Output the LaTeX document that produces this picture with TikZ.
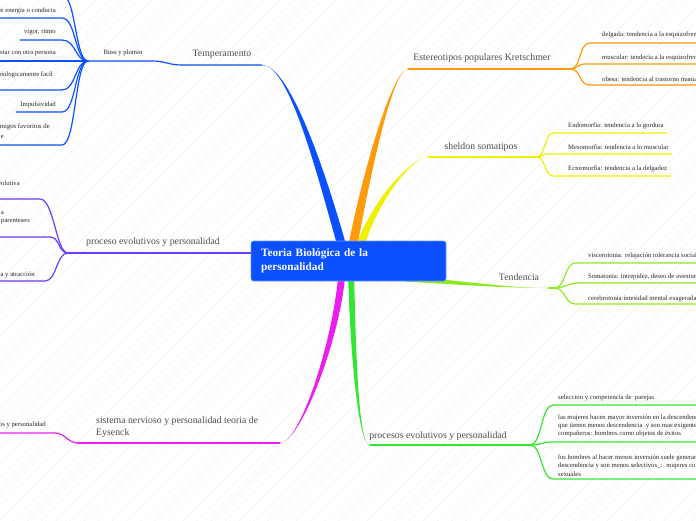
\documentclass[tikz,border=0pt]{standalone}
\usepackage{fontspec}
\setmainfont{Liberation Serif}
\usetikzlibrary{calc,patterns.meta,positioning}

\definecolor{mapblue}{HTML}{0A50FF}
\definecolor{maporange}{HTML}{FF9A0A}
\definecolor{mapyellow}{HTML}{F0F000}
\definecolor{maplime}{HTML}{8CEB1E}
\definecolor{mapgreen}{HTML}{33E633}
\definecolor{mapmagenta}{HTML}{EB1EEB}
\definecolor{mappurple}{HTML}{6A3BFF}
\definecolor{topicgray}{HTML}{4D4D4D}
\definecolor{leafgray}{HTML}{262626}

\tikzset{
  topic/.style={font=\fontsize{9.8}{12}\selectfont, text=topicgray, inner sep=0pt, align=left},
  leaf/.style={font=\fontsize{6.7}{8.3}\selectfont, text=leafgray, inner sep=0pt, align=left},
  twig/.style={line width=1.2pt, line cap=round},
  rootbox/.style={rectangle, rounded corners=2.5pt, fill=mapblue, draw=mapblue!60!white,
    line width=0.6pt, text=white, font=\bfseries\fontsize{11.3}{14}\selectfont,
    minimum width=195pt, minimum height=40pt, text width=175pt, align=left}
}

% thick branch: colour, far end, control 1, control 2, near end, half width
\newcommand{\taper}[6]{%
  \fill[#1] (#2) .. controls (#3) and ($(#4)-(#6)$) .. ($(#5)-(#6)$)
    -- ($(#5)+(#6)$) .. controls ($(#4)+(#6)$) and (#3) .. (#2);}

\begin{document}
\begin{tikzpicture}[x=1pt,y=-1pt]
  % background
  \useasboundingbox (0,0) rectangle (696,520);
  \fill[pattern={Lines[angle=45,distance=10pt,line width=0.35pt]}, pattern color=black!7]
    (0,0) rectangle (696,520);
  \clip (0,0) rectangle (696,520);

  % branch ends and hubs
  \coordinate (tempK) at (262,65);
  \coordinate (tempL) at (182,65);
  \coordinate (bussK) at (152,61);
  \coordinate (bussHub) at (88,61);
  \coordinate (kretK) at (408,69);
  \coordinate (kretHub) at (570,69);
  \coordinate (somaK) at (428,157);
  \coordinate (somaHub) at (537,157);
  \coordinate (tendK) at (548,288);
  \coordinate (tendHub) at (555,288);
  \coordinate (procK) at (370,445);
  \coordinate (procHub) at (530,445);
  \coordinate (eysK) at (280,443);
  \coordinate (eysL) at (78,443);
  \coordinate (evoNear) at (255,253);
  \coordinate (evoHub) at (68,253);

  % thick branches
  \taper{mapblue}{tempK}{288,65}{318,160}{343,250}{4.5,0}
  \taper{maporange}{kretK}{392,69}{365,180}{352,250}{4.5,0}
  \taper{mapyellow}{somaK}{410,158}{372,205}{359,250}{4,0}
  \taper{maplime}{tendK}{505,288}{455,282}{405,279}{0,2.5}
  \taper{mapgreen}{procK}{358,445}{353,350}{351,272}{3,0}
  \taper{mapmagenta}{eysK}{300,443}{337,340}{342,272}{3.5,0}

  \draw[twig, mapblue] (tempK) -- (tempL) .. controls +(-14,0) and +(14,0) .. (bussK) -- (bussHub);
  \draw[twig, maporange] (kretK) -- (kretHub);
  \draw[twig, mapyellow] (somaK) -- (somaHub);
  \draw[twig, maplime] (tendK) -- (tendHub);
  \draw[twig, mapgreen] (procK) -- (procHub);
  \draw[twig, mapmagenta] (eysK) -- (eysL);
  \draw[twig, mappurple] (evoNear) -- (evoHub);

  % topic labels
  \node[topic] (temperamento) at (222,54) {Temperamento};
  \node[leaf] (buss) at (123,53) {Buss y plomin};
  \node[topic] (kretschmer) at (482,58) {Estereotipos populares Kretschmer};
  \node[topic] (sheldon) at (481,147) {sheldon somatipos};
  \node[topic] (tendencia) at (519,277) {Tendencia};
  \node[topic] (procesos) at (438,436) {procesos evolutivos y personalidad};
  \node[topic, anchor=west] (eysenck) at (96,427) {sistema nervioso y personalidad teoria de\\Eysenck};
  \node[topic] (evolutivos) at (153,242) {proceso evolutivos y personalidad};

  % Buss y plomin
  \coordinate (topA) at (62,-5);
  \coordinate (energiaA) at (62,18);
  \coordinate (vigorA) at (62,40);
  \coordinate (personaA) at (0,61);
  \coordinate (bioA) at (62,90);
  \coordinate (impulsoA) at (62,112);
  \coordinate (amigosA) at (62,145);
  \node[leaf, anchor=east] (energia) at (56,11) {de energia o conducta};
  \node[leaf, anchor=east] (vigor) at (56,32) {vigor, ritmo};
  \node[leaf, anchor=east] (persona) at (56,53) {estar con otra persona};
  \node[leaf, anchor=east] (bio) at (53,75) {biologicamente facil};
  \node[leaf, anchor=east] (impulso) at (56,105) {Impulsividad};
  \node[leaf, anchor=east] (amigos) at (50,127) {amigos favoritos de};
  \node[leaf, anchor=east] (amigosB) at (4,137) {e};
  \draw[twig, mapblue] (bussHub) .. controls +(-13,0) and +(14,0) .. (topA) -- +(-70,0);
  \draw[twig, mapblue] (bussHub) .. controls +(-13,0) and +(14,0) .. (energiaA) -- +(-70,0);
  \draw[twig, mapblue] (bussHub) .. controls +(-13,0) and +(14,0) .. (vigorA) -- ([xshift=-4pt]vigorA -| vigor.west);
  \draw[twig, mapblue] (bussHub) -- (personaA);
  \draw[twig, mapblue] (bussHub) .. controls +(-13,0) and +(14,0) .. (bioA) -- +(-70,0);
  \draw[twig, mapblue] (bussHub) .. controls +(-13,0) and +(14,0) .. (impulsoA) -- ([xshift=-4pt]impulsoA -| impulso.west);
  \draw[twig, mapblue] (bussHub) .. controls +(-13,0) and +(14,0) .. (amigosA) -- +(-70,0);

  % Kretschmer
  \coordinate (delgadaA) at (590,43);
  \coordinate (muscularA) at (585,64);
  \coordinate (obesaA) at (590,85);
  \node[leaf, anchor=west] (delgada) at (602,35) {delgada: tendencia a la esquizofrenia};
  \node[leaf, anchor=west] (muscular) at (602,58) {muscular: tendecia a la esquizofrenia};
  \node[leaf, anchor=west] (obesa) at (602,79) {obesa: tendencia al trastorno maniaco};
  \draw[twig, maporange] (kretHub) .. controls +(12,0) and +(-12,0) .. (delgadaA) -- +(130,0);
  \draw[twig, maporange] (kretHub) .. controls +(8,0) and +(-8,0) .. (muscularA) -- +(130,0);
  \draw[twig, maporange] (kretHub) .. controls +(12,0) and +(-12,0) .. (obesaA) -- +(130,0);

  % Sheldon
  \coordinate (endoA) at (553,133);
  \coordinate (mesoA) at (548,154);
  \coordinate (ectoA) at (553,176);
  \node[leaf, anchor=west] (endo) at (568,126) {Endomorfia: tendencia a la gordura};
  \node[leaf, anchor=west] (meso) at (568,147) {Mesomorfia: tendencia a lo muscular};
  \node[leaf, anchor=west] (ecto) at (568,169) {Ectormorfia: tendencia a la delgadez};
  \draw[twig, mapyellow] (somaHub) .. controls +(8,0) and +(-8,0) .. (endoA) -- ([xshift=3pt]endoA -| endo.east);
  \draw[twig, mapyellow] (somaHub) .. controls +(6,0) and +(-6,0) .. (mesoA) -- ([xshift=3pt]mesoA -| meso.east);
  \draw[twig, mapyellow] (somaHub) .. controls +(8,0) and +(-8,0) .. (ectoA) -- ([xshift=3pt]ectoA -| ecto.east);

  % Tendencia
  \coordinate (visceroA) at (575,263);
  \coordinate (somatoA) at (578,283);
  \coordinate (cerebroA) at (575,304);
  \node[leaf, anchor=west] (viscero) at (588,256) {viscerotonia: relajación tolerancia social};
  \node[leaf, anchor=west] (somato) at (588,277) {Somatonia: intrepidez, deseo de aventura};
  \node[leaf, anchor=west] (cerebro) at (588,299) {cerebrotonia:intesidad mental exagerada};
  \draw[twig, maplime] (tendHub) .. controls +(10,0) and +(-10,0) .. (visceroA) -- +(130,0);
  \draw[twig, maplime] (tendHub) .. controls +(10,0) and +(-10,0) .. (somatoA) -- +(130,0);
  \draw[twig, maplime] (tendHub) .. controls +(10,0) and +(-10,0) .. (cerebroA) -- +(130,0);

  % procesos evolutivos
  \coordinate (parejasA) at (553,405);
  \coordinate (mujeresA) at (553,442);
  \coordinate (hombresA) at (553,479);
  \node[leaf, anchor=west] (parejas) at (558,398) {seleccion y competencia de \ parejas};
  \node[leaf, anchor=west] (mujeres) at (558,426) {las mujeres hacen mayor inversión en la descendencia y\\que tienen menos descendencia \ y son mas exigentes con sus\\compañeros: hombres como objetos de éxitos};
  \node[leaf, anchor=west] (hombres) at (558,465.5) {los hombres al hacer menos inversión suele generar\\descendencia y son menos selectivos\_: \ mujeres como objetos\\sexuales};
  \draw[twig, mapgreen] (procHub) .. controls +(12,0) and +(-12,0) .. (parejasA) -- +(150,0);
  \draw[twig, mapgreen] (procHub) .. controls +(12,0) and +(-12,0) .. (mujeresA) -- +(150,0);
  \draw[twig, mapgreen] (procHub) .. controls +(12,0) and +(-12,0) .. (hombresA) -- +(150,0);

  % Eysenck
  \coordinate (nervA) at (55,433);
  \node[leaf, anchor=east] (nerv) at (46,425) {procesos y personalidad};
  \draw[twig, mapmagenta] (eysL) .. controls +(-10,0) and +(10,0) .. (nervA) -- +(-60,0);

  % proceso evolutivos
  \coordinate (evolA) at (40,199);
  \coordinate (parenA) at (50,237);
  \coordinate (atraccA) at (45,281);
  \node[leaf, anchor=east] (evol) at (20,183) {evolutiva};
  \node[leaf, anchor=east] (parenB) at (4,213) {a};
  \node[leaf, anchor=east] (paren) at (30,221) {parenteseo};
  \node[leaf, anchor=east] (atracc) at (35,275) {belleza y atracción};
  \draw[twig, mappurple] (evoHub) .. controls +(-12,0) and +(14,0) .. (evolA) -- +(-60,0);
  \draw[twig, mappurple] (evoHub) .. controls +(-10,0) and +(10,0) .. (parenA) -- +(-60,0);
  \draw[twig, mappurple] (evoHub) .. controls +(-12,0) and +(12,0) .. (atraccA) -- +(-60,0);

  % centre
  \node[rootbox] (root) at (348.5,261) {Teoria Biológica de la\\personalidad};
\end{tikzpicture}
\end{document}
